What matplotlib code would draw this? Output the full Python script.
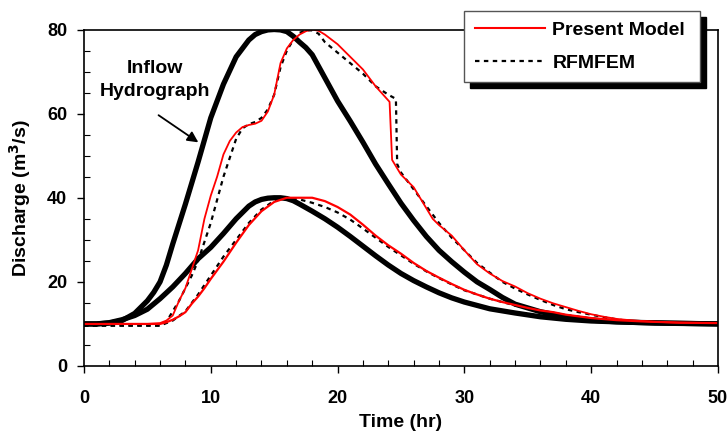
import matplotlib
matplotlib.use("Agg")
import matplotlib.pyplot as plt
from matplotlib.ticker import MultipleLocator
from matplotlib.lines import Line2D

plt.rcParams['font.family'] = ['Liberation Sans', 'DejaVu Sans']
plt.rcParams['font.weight'] = 'bold'

# inflow hydrograph, peak 80
t_in80 = [0, 1, 2, 3, 4, 5, 5.5, 6, 6.5, 7, 8, 9, 10, 11, 12, 13, 13.5, 14, 14.5, 15, 15.5,
          16, 16.5, 17, 17.5, 18, 19, 20, 21, 22, 23, 24, 25, 26, 27, 28, 29, 30, 31, 32,
          33, 34, 36, 38, 40, 42, 45, 50]
q_in80 = [10, 10, 10.2, 10.8, 12.5, 15.5, 17.5, 20, 24, 29, 38.5, 48.5, 59, 67, 73.5, 77.5,
          78.8, 79.5, 79.9, 80, 79.9, 79.5, 78.4, 77, 75.7, 74, 68.5, 63, 58.2, 53.2, 48,
          43.3, 38.7, 34.6, 30.8, 27.5, 24.8, 22.3, 20, 18.2, 16.3, 14.7, 12.9, 11.7, 10.9,
          10.5, 10.2, 10]

# inflow hydrograph, peak 40
t_in40 = [0, 1, 2, 3, 4, 5, 6, 7, 8, 9, 10, 11, 12, 13, 13.5, 14, 14.5, 15, 15.5, 16, 16.5,
          17, 18, 19, 20, 21, 22, 23, 24, 25, 26, 27, 28, 29, 30, 32, 34, 36, 38, 40, 43,
          46, 50]
q_in40 = [10, 10, 10.3, 11, 12, 13.5, 16, 18.8, 22, 25.5, 28.2, 31.5, 35, 38, 39, 39.6, 39.9,
          40, 40, 39.8, 39.3, 38.5, 36.8, 35, 33, 30.8, 28.5, 26.2, 24, 22, 20.3, 18.8, 17.4,
          16.2, 15.2, 13.6, 12.6, 11.7, 11.1, 10.7, 10.4, 10.2, 10]

# Present Model, peak 80 case
t_pm80 = [0, 5, 6, 6.5, 7, 7.5, 8, 8.5, 9, 9.5, 10, 10.5, 11, 11.5, 12, 12.5, 13, 13.5,
          14, 14.5, 15, 15.5, 16, 16.5, 17, 17.5, 18, 18.5, 19, 20, 21, 22, 23, 24.1, 24.3,
          25, 26, 27, 27.5, 28, 29, 30, 31, 32, 33, 34, 35, 36, 37, 38, 39, 40, 41, 42, 43,
          45, 47, 50]
q_pm80 = [10, 10, 10.2, 10.8, 12, 15.5, 18.5, 23, 27.5, 35, 40.5, 45, 50.3, 53.5, 55.5,
          56.8, 57.3, 57.6, 58.3, 60.5, 64.5, 72, 75.5, 77.5, 78.8, 79.6, 80, 79.7, 78.8,
          76.5, 73.5, 70.5, 66.5, 62.8, 49, 45.5, 42.5, 37.5, 35, 33.5, 31, 27.5, 24.2, 22,
          20.2, 18.9, 17.3, 16, 14.9, 14, 13.1, 12.3, 11.7, 11.2, 10.9, 10.5, 10.3, 10.2]

# RFMFEM, peak 80 case
t_rf80 = [0, 6, 6.5, 7, 7.5, 8, 8.5, 9, 9.5, 10, 10.5, 11, 11.5, 12, 12.5, 13, 13.5, 14,
          14.5, 15, 15.5, 16, 16.5, 17, 17.5, 18, 18.5, 19, 20, 21, 22, 23, 24, 24.6, 24.7,
          25, 26, 27, 28, 29, 30, 31, 32, 33, 34, 35, 36, 37, 38, 39, 40, 41, 42, 43, 45, 50]
q_rf80 = [9.6, 9.6, 10.5, 13, 15.5, 18.5, 21.5, 25, 29.5, 34, 39.5, 45, 49.5, 54, 56.5,
          57.5, 58, 59, 61, 64.5, 71, 75, 77.5, 79.2, 79.8, 79.8, 79, 77, 74.5, 72, 69.5,
          66.5, 64.5, 63.5, 48, 46, 42, 38, 34, 30.5, 27.5, 24.5, 22.2, 20, 18.4, 17, 15.7,
          14.5, 13.5, 12.8, 12.2, 11.6, 11.1, 10.7, 10.3, 10]

# Present Model, peak 40 case
t_pm40 = [0, 6, 6.5, 7, 7.5, 8, 8.5, 9, 9.5, 10, 11, 12, 13, 14, 15, 16, 17, 18, 19, 20,
          21, 22, 23, 24, 25, 26, 27, 28, 29, 30, 31, 32, 33, 34, 35, 36, 37, 38, 39, 40,
          42, 44, 47, 50]
q_pm40 = [10, 10, 10.4, 11, 11.8, 12.8, 14.8, 16.5, 18.5, 20.7, 24.8, 29.3, 33.5, 36.8,
          39, 40, 40, 40, 39.2, 37.8, 36, 33.6, 31, 28.7, 26.7, 24.5, 22.6, 21, 19.5, 18.1,
          17, 16, 15.2, 14.5, 13.8, 13.2, 12.8, 12.2, 11.8, 11.4, 10.9, 10.6, 10.3, 10.2]

# RFMFEM, peak 40 case
t_rf40 = [0, 6, 7, 8, 9, 10, 11, 12, 13, 14, 15, 16, 17, 18, 19, 20, 21, 22, 23, 24, 25,
          26, 27, 28, 29, 30, 32, 34, 36, 38, 40, 42, 45, 50]
q_rf40 = [9.6, 9.6, 10.8, 13, 17, 21.5, 26, 30, 34, 37.2, 39.3, 40, 39.6, 38.8, 37.8, 36.5,
          34.8, 32.7, 30.5, 28.3, 26.3, 24.3, 22.5, 20.9, 19.4, 18, 16, 14.4, 13.1, 12.1,
          11.3, 10.8, 10.4, 10]

fig = plt.figure(figsize=(7.27, 4.32), dpi=100)
ax = fig.add_axes([0.1155, 0.1528, 0.8721, 0.7789])

ax.plot(t_in80, q_in80, color='black', lw=3.8, solid_joinstyle='round')
ax.plot(t_in40, q_in40, color='black', lw=3.8, solid_joinstyle='round')
ax.plot(t_rf80, q_rf80, color='black', lw=1.6, ls=(0, (2, 2)))
ax.plot(t_rf40, q_rf40, color='black', lw=1.6, ls=(0, (2, 2)))
ax.plot(t_pm80, q_pm80, color='#ff0000', lw=1.3)
ax.plot(t_pm40, q_pm40, color='#ff0000', lw=1.6)

ax.set_xlim(0, 50)
ax.set_ylim(0, 80)
ax.xaxis.set_major_locator(MultipleLocator(10))
ax.xaxis.set_minor_locator(MultipleLocator(2))
ax.yaxis.set_major_locator(MultipleLocator(20))
ax.yaxis.set_minor_locator(MultipleLocator(5))
ax.tick_params(which='major', direction='out', length=5, width=1, labelsize=13)
ax.tick_params(axis='x', which='major', pad=12)
ax.tick_params(axis='y', which='major', pad=7)
ax.tick_params(which='minor', direction='in', length=4, width=0.8)
for lab in ax.get_xticklabels() + ax.get_yticklabels():
    lab.set_fontweight('bold')
for s in ax.spines.values():
    s.set_linewidth(1.2)

ax.set_xlabel('Time (hr)', fontsize=14, fontweight='bold', labelpad=5)
ax.set_ylabel('Discharge (m$^3$/s)', fontsize=14, fontweight='bold', labelpad=10)

ax.text(5.6, 68, 'Inflow\nHydrograph', ha='center', va='center', fontsize=14,
        fontweight='bold', linespacing=1.45)
ax.annotate('', xy=(9.2, 52.8), xytext=(5.7, 60),
            arrowprops=dict(arrowstyle='-|>', color='black', lw=1.3, mutation_scale=16))

handles = [Line2D([], [], color='#ff0000', lw=1.5),
           Line2D([], [], color='black', lw=1.6, ls=(0, (2, 2)))]
leg = fig.legend(handles, ['Present Model', 'RFMFEM'], loc='upper left',
                 bbox_to_anchor=(464 / 727, 1 - 83 / 432, 236 / 727, 72 / 432),
                 mode='expand', borderaxespad=0, prop={'weight': 'bold', 'size': 14},
                 frameon=True, fancybox=False, handlelength=3.6, handletextpad=0.4,
                 borderpad=0.55, labelspacing=0.75,
                 shadow={'ox': 4.5, 'oy': -4.5, 'color': 'black', 'alpha': 1})
leg.get_frame().set_edgecolor('#555555')
leg.get_frame().set_linewidth(1.0)

fig.savefig('out.png', dpi=100)
